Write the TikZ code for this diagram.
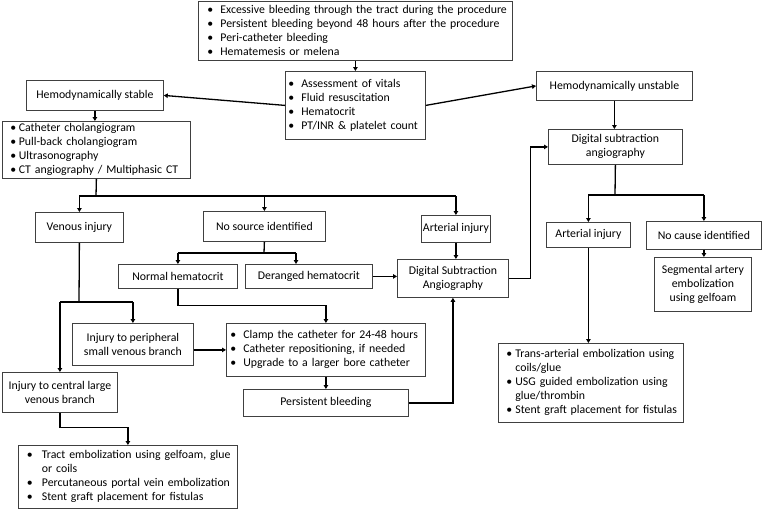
\documentclass[tikz,border=0pt]{standalone}
\usepackage{fontspec}
\setmainfont{Carlito}
\usetikzlibrary{arrows.meta}
\definecolor{boxgray}{HTML}{404040}
\newcommand\bul[2]{\hspace*{#1}\makebox[#2][l]{\textbullet}}
\begin{document}
\begin{tikzpicture}[x=1pt,y=-1pt,
 box/.style={draw=boxgray,line width=0.8pt,inner sep=0pt,anchor=north west,align=center,font=\fontsize{11.8}{14}\selectfont},
 lst/.style={box,align=left},
 arr/.style={line width=1.3pt,-{Triangle[length=4pt,width=4.5pt]}},
 ln/.style={line width=1.3pt}]
\useasboundingbox (0,0) rectangle (762,509);

\node[lst,text width=314pt,minimum height=59pt] (top) at (198,1)
 {\bul{9pt}{13pt}Excessive bleeding through the tract during the procedure\\
  \bul{9pt}{13pt}Persistent bleeding beyond 48 hours after the procedure\\
  \bul{9pt}{13pt}Peri-catheter bleeding\\
  \bul{9pt}{13pt}Hematemesis or melena};
\node[lst,text width=140pt,minimum height=68pt] (assess) at (285,71)
 {\bul{3pt}{13pt}Assessment of vitals\\
  \bul{3pt}{13pt}Fluid resuscitation\\
  \bul{3pt}{13pt}Hematocrit\\
  \bul{3pt}{13pt}PT/INR \& platelet count};
\node[box,minimum width=137pt,minimum height=30pt] (stable) at (26,80) {Hemodynamically stable};
\node[box,minimum width=156pt,minimum height=29pt] (unstable) at (536,71) {Hemodynamically unstable};
\node[lst,text width=188pt,minimum height=57pt] (list) at (2,121)
 {\bul{8pt}{8.5pt}Catheter cholangiogram\\
  \bul{8pt}{8.5pt}Pull-back cholangiogram\\
  \bul{8pt}{8.5pt}Ultrasonography\\
  \bul{8pt}{8.5pt}CT angiography / Multiphasic CT};
\node[box,minimum width=88pt,minimum height=30pt] (venous) at (35,212) {Venous injury};
\node[box,minimum width=122pt,minimum height=30pt] (nosource) at (203,211) {No source identified};
\node[box,minimum width=69pt,minimum height=27pt] (artL) at (421,215) {Arterial injury};
\node[box,minimum width=111pt,minimum height=38pt] (dsaL) at (397,259) {Digital Subtraction\\Angiography};
\node[box,minimum width=119pt,minimum height=24pt] (normal) at (118,264) {Normal hematocrit};
\node[box,minimum width=127pt,minimum height=24pt] (deranged) at (245,264) {Deranged hematocrit};
\node[lst,text width=199pt,minimum height=53pt] (clamp) at (226,323)
 {\bul{4pt}{13pt}Clamp the catheter for 24-48 hours\\
  \bul{4pt}{13pt}Catheter repositioning, if needed\\
  \bul{4pt}{13pt}Upgrade to a larger bore catheter};
\node[box,minimum width=165pt,minimum height=27pt] (persist) at (243,389) {Persistent bleeding};
\node[box,minimum width=121pt,minimum height=42pt] (peri) at (72,323) {Injury to peripheral\\small venous branch};
\node[box,minimum width=115pt,minimum height=40pt] (central) at (2,372) {Injury to central large\\venous branch};
\node[lst,text width=219pt,minimum height=63pt] (tract) at (18,445)
 {\bul{8.5pt}{15pt}Tract embolization using gelfoam, glue\\
  \hspace*{23.5pt}or coils\\
  \bul{8.5pt}{15pt}Percutaneous portal vein embolization\\
  \bul{8.5pt}{15pt}Stent graft placement for fistulas};
\node[box,minimum width=134pt,minimum height=35pt] (dsaR) at (548,129) {Digital subtraction\\angiography};
\node[box,minimum width=84pt,minimum height=25pt] (artR) at (546,222) {Arterial injury};
\node[box,minimum width=115pt,minimum height=28pt] (nocause) at (646,221) {No cause identified};
\node[box,minimum width=97pt,minimum height=54pt] (segm) at (654,257) {Segmental artery\\embolization\\using gelfoam};
\node[lst,text width=185pt,minimum height=79pt] (trans) at (498,343)
 {\bul{8pt}{9pt}Trans-arterial embolization using\\
  \hspace*{17pt}coils/glue\\
  \bul{8pt}{9pt}USG guided embolization using\\
  \hspace*{17pt}glue/thrombin\\
  \bul{8pt}{9pt}Stent graft placement for fistulas};

\draw[arr] (top.south) -- (assess.north);
\draw[arr] (assess.west) -- (stable.east);
\draw[arr] (assess.east) -- (unstable.west);
\draw[arr] (stable.south) -- (stable.south |- list.north);
\coordinate (b1) at (96,196);
\draw[ln] (list.south) -- (b1);
\draw[ln] (b1 -| venous.north) -- (b1 -| artL.north);
\draw[arr] (b1 -| venous.north) -- (venous.north);
\draw[arr] (b1 -| nosource.north) -- (nosource.north);
\draw[arr] (b1 -| artL.north) -- (artL.north);
\draw[arr] (artL.south) -- (artL.south |- dsaL.north);
\coordinate (b2) at (264,253);
\coordinate (dr) at (296,253);
\draw[ln] (nosource.south) -- (b2);
\draw[ln] (b2 -| normal.north) -- (dr);
\draw[arr] (b2 -| normal.north) -- (normal.north);
\draw[arr] (dr) -- (dr |- deranged.north);
\draw[arr] (deranged.east) -- (deranged.east -| dsaL.west);
\draw[arr] (normal.south) -- ++(0,17) -| (clamp.north);
\draw[arr] (clamp.south) -- (persist.north);
\draw[arr] (persist.east) -| (dsaL.south);
\draw[arr] (dsaL.east) -- ++(22,0) |- (dsaR.west);
\draw[arr] (unstable.south) -- (unstable.south |- dsaR.north);
\coordinate (b3) at (615,195);
\draw[ln] (dsaR.south) -- (b3);
\draw[ln] (b3 -| artR.north) -- (b3 -| nocause.north);
\draw[arr] (b3 -| artR.north) -- (artR.north);
\draw[arr] (b3 -| nocause.north) -- (nocause.north);
\draw[arr] (nocause.south) -- (nocause.south |- segm.north);
\draw[arr] (artR.south) -- (artR.south |- trans.north);
\coordinate (b4) at (79,302);
\draw[ln] (venous.south) -- (b4);
\draw[ln] (b4 -| central.north) -- (b4 -| peri.north);
\draw[arr] (b4 -| central.north) -- (central.north);
\draw[arr] (b4 -| peri.north) -- (peri.north);
\draw[arr] (clamp.west -| peri.east) -- (clamp.west);
\draw[arr] (central.south) -- ++(0,15) -| (tract.north);
\end{tikzpicture}
\end{document}
